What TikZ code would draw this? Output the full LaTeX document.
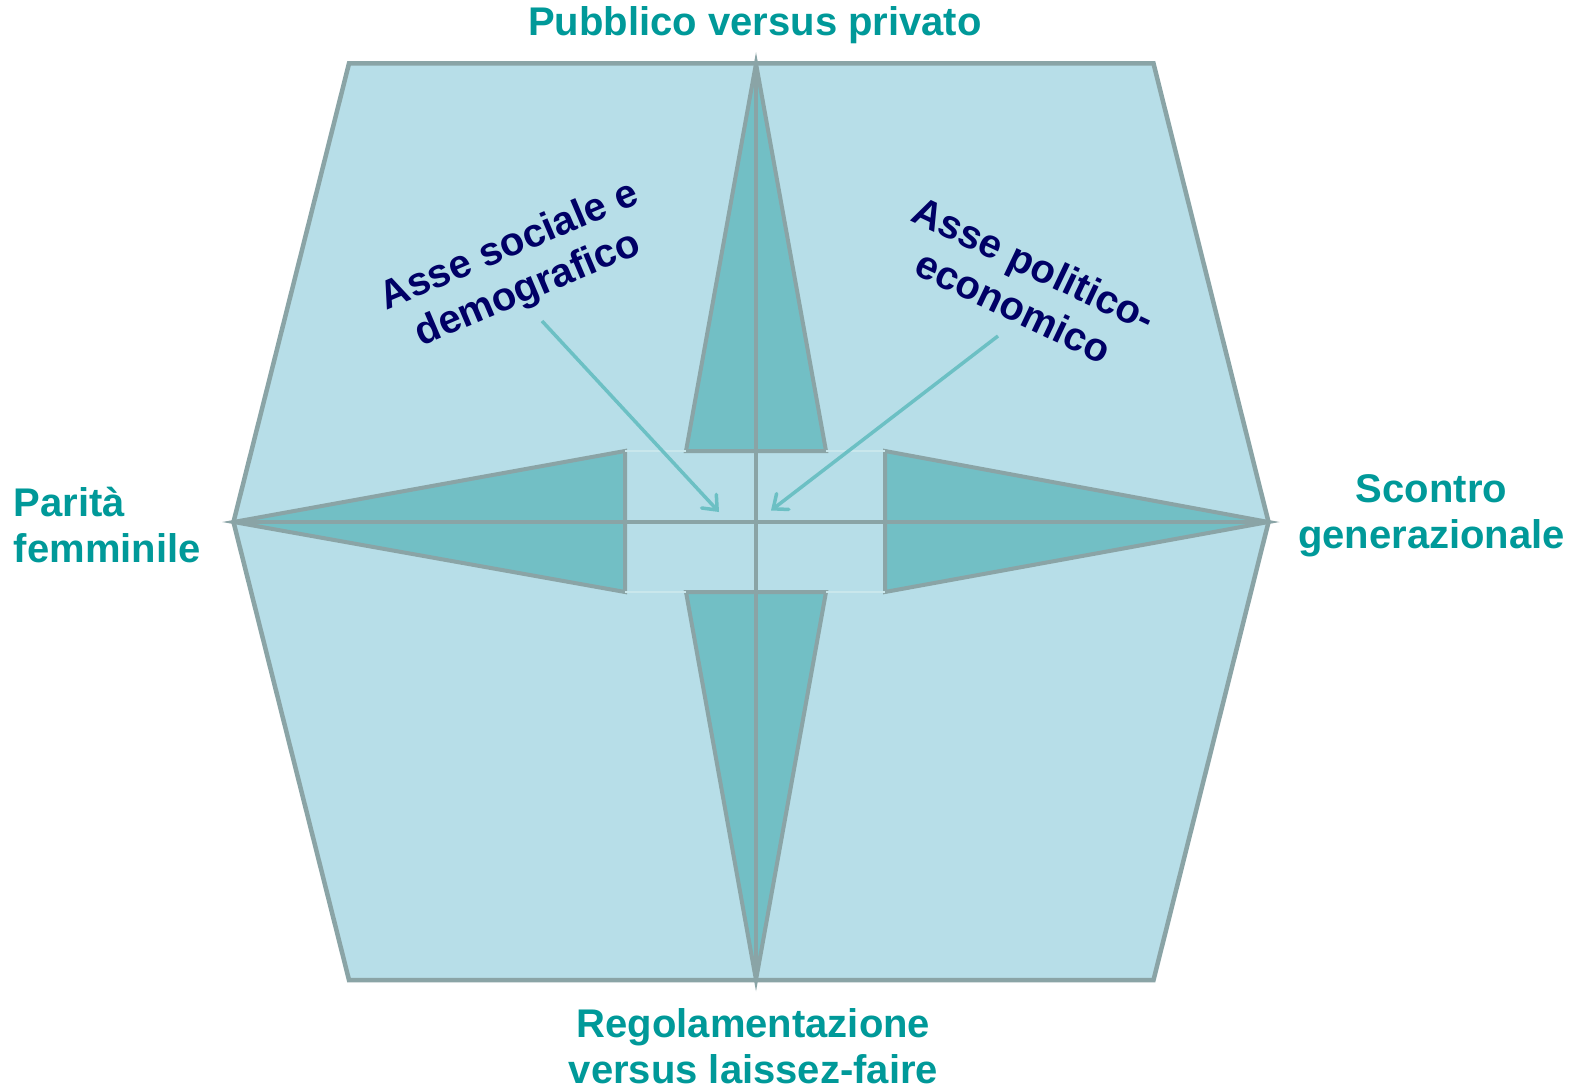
\documentclass[tikz,border=0pt]{standalone}
\usepackage{fontspec}
\setmainfont{Liberation Sans}
\usetikzlibrary{arrows.meta}
\definecolor{hexfill}{HTML}{B7DEE8}
\definecolor{trifill}{HTML}{72BFC5}
\definecolor{axisgray}{HTML}{8AA4A6}
\definecolor{labelteal}{HTML}{009999}
\definecolor{navyblue}{HTML}{000066}
\definecolor{arrowteal}{HTML}{6CC0C4}
\definecolor{faintline}{HTML}{C9E7EC}
\begin{document}
\begin{tikzpicture}[x=1pt,y=-1pt,
  hexshape/.style={fill=hexfill, draw=axisgray, line width=4.5pt, line join=miter},
  tri/.style={fill=trifill, draw=axisgray, line width=4pt, line join=miter},
  axisline/.style={draw=axisgray, line width=4pt},
  faint/.style={draw=faintline, line width=2pt},
  pointer/.style={draw=arrowteal, line width=3.5pt, -{Straight Barb[length=12pt,width=20pt,line cap=round]}},
  axislabel/.style={text=labelteal, font=\fontsize{40}{46.5}\selectfont\bfseries, inner sep=0pt},
  axislabeltwo/.style={text=navyblue, font=\fontsize{40}{47}\selectfont\bfseries, inner sep=0pt}]
\useasboundingbox[fill=white] (0,0) rectangle (1584,1091);
% hexagon
\coordinate (TL) at (349,63.5);
\coordinate (TR) at (1153.5,63.5);
\coordinate (R) at (1268.5,522);
\coordinate (BR) at (1153.5,980);
\coordinate (BL) at (349,980);
\coordinate (L) at (233.5,522);
\coordinate (T) at (756,63.5);
\coordinate (B) at (756,980);
\draw[hexshape] (TL) -- (TR) -- (R) -- (BR) -- (BL) -- (L) -- cycle;
% triangles
\coordinate (tL) at (686,451);
\coordinate (tR) at (826,451);
\coordinate (bL) at (686,592);
\coordinate (bR) at (826,592);
\coordinate (lT) at (625,451);
\coordinate (lB) at (625,592);
\coordinate (rT) at (885,451);
\coordinate (rB) at (885,592);
\draw[tri] (T) -- (tR) -- (tL) -- cycle;
\draw[tri] (B) -- (bR) -- (bL) -- cycle;
\draw[tri] (L) -- (lT) -- (lB) -- cycle;
\draw[tri] (R) -- (rT) -- (rB) -- cycle;
% faint joins
\draw[faint] (lT) -- (tL) (tR) -- (rT) (lB) -- (bL) (bR) -- (rB);
% axes
\draw[axisline] (T) -- (B);
\draw[axisline] (L) -- (R);
% pointers
\coordinate (s1) at (542,321);
\coordinate (e1) at (719,512);
\coordinate (s2) at (998,336);
\coordinate (e2) at (771,510.5);
\draw[pointer] (s1) -- (e1);
\draw[pointer] (s2) -- (e2);
% labels
\node[axislabel, anchor=base] (top) at (755,36) {Pubblico versus privato};
\node[axislabel, anchor=north, align=center] (bottom) at (753.5,1008) {Regolamentazione\\versus laissez-faire};
\node[axislabel, anchor=south west, align=left] (left) at (13.7,563.3) {Parità\\femminile};
\node[axislabel, anchor=north, align=center] (right) at (1431.5,474) {Scontro\\generazionale};
\node[axislabeltwo, rotate=23, align=center] (social) at (519,268.5) {Asse sociale e\\demografico};
\node[axislabeltwo, rotate=-25.5, align=center] (polit) at (1024,285) {Asse politico-\\economico};
\end{tikzpicture}
\end{document}
